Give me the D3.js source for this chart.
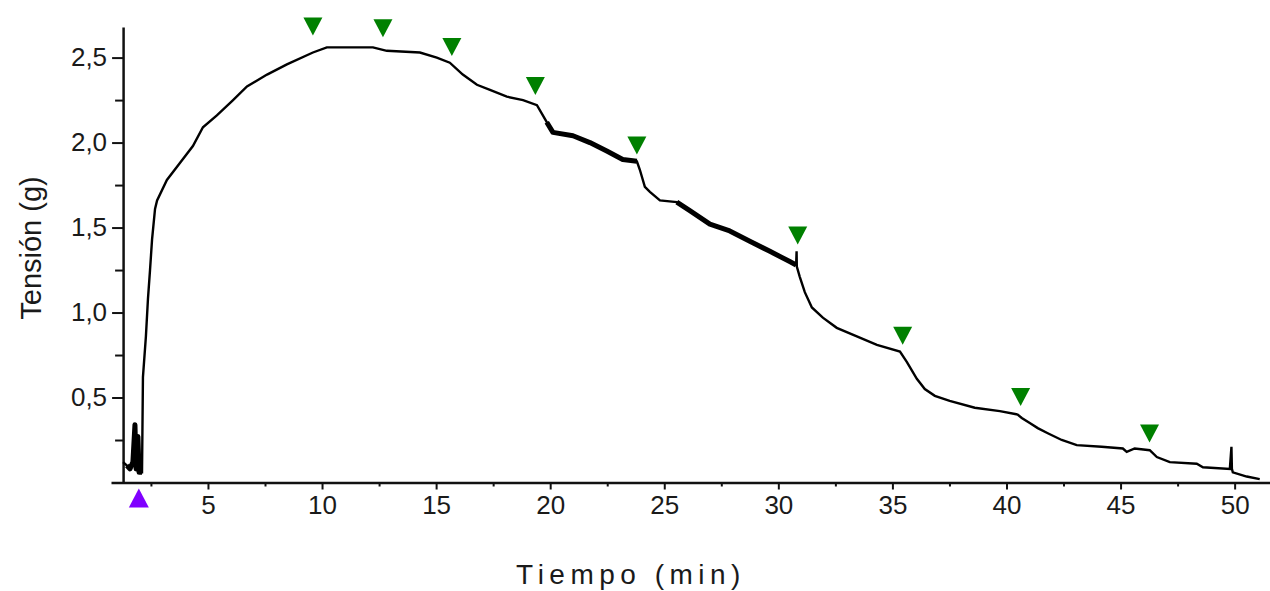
<!DOCTYPE html>
<html>
<head>
<meta charset="utf-8">
<script src="https://cdn.jsdelivr.net/npm/d3@7"></script>
<style>
  html, body { margin: 0; padding: 0; background: #fff; }
  svg { display: block; }
  .tick text { font-family: "Liberation Sans", Arial, sans-serif; font-size: 26px; fill: #1a1a1a; }
  .axis-title { font-family: "Liberation Sans", Arial, sans-serif; font-size: 28px; fill: #1a1a1a; }
</style>
</head>
<body>
<div id="chart"></div>
<script>
  // trace: time (min) and tension (g)
  const times = [
    1.28, 1.45, 1.58, 1.71, 1.80, 1.85, 1.93, 1.98, 2.11, 2.15, 2.28, 2.37, 2.46, 2.55, 2.68,
    2.77, 3.20, 3.77, 4.34, 4.78, 5.39, 6.10, 6.71, 7.59, 8.46, 9.60, 10.21, 12.23, 12.84,
    14.29, 15.03, 15.60, 16.17, 16.79, 17.36, 18.10, 18.81, 19.42, 19.85, 20.12, 21.00,
    21.74, 22.48, 23.18, 23.80, 23.93, 24.15, 24.37, 24.81, 25.55, 26.12, 27.00, 27.87,
    28.75, 29.63, 30.50, 30.78, 30.80, 30.81, 30.94, 31.16, 31.47, 31.95, 32.56, 33.44,
    34.32, 35.33, 35.63, 36.07, 36.42, 36.86, 37.51, 38.61, 39.71, 40.49, 40.67, 41.02,
    41.37, 41.81, 42.42, 43.08, 44.17, 45.10, 45.27, 45.62, 46.28, 46.59, 47.16, 48.34,
    48.61, 49.79, 49.86, 49.88, 49.92, 50.53, 51.10
  ];
  const tension = [
    0.12, 0.10, 0.08, 0.12, 0.34, 0.08, 0.27, 0.06, 0.06, 0.62, 0.86, 1.08, 1.25, 1.43, 1.61,
    1.66, 1.78, 1.88, 1.98, 2.09, 2.16, 2.25, 2.33, 2.40, 2.46, 2.53, 2.56, 2.56, 2.54,
    2.53, 2.50, 2.47, 2.40, 2.34, 2.31, 2.27, 2.25, 2.22, 2.12, 2.06, 2.04,
    2.00, 1.95, 1.90, 1.89, 1.84, 1.74, 1.71, 1.66, 1.65, 1.60, 1.52, 1.48,
    1.42, 1.36, 1.30, 1.28, 1.36, 1.27, 1.21, 1.12, 1.03, 0.97, 0.91, 0.86,
    0.81, 0.77, 0.71, 0.61, 0.55, 0.51, 0.48, 0.44, 0.42, 0.40, 0.38, 0.35,
    0.32, 0.29, 0.25, 0.22, 0.21, 0.20, 0.18, 0.20, 0.19, 0.15, 0.12, 0.11,
    0.09, 0.08, 0.21, 0.08, 0.06, 0.035, 0.02
  ];

  // stretches where the recording is noisy and the trace looks thick
  const noisyStretches = [[1.40, 2.11], [19.5, 23.8], [25.5, 30.78]];

  // green markers (drug additions) and purple start marker
  const addTimes = [9.60, 12.67, 15.69, 19.35, 23.80, 30.85, 35.45, 40.62, 46.27];
  const addLevels = [2.63, 2.62, 2.51, 2.28, 1.93, 1.40, 0.81, 0.45, 0.235];
  const startTime = 1.97;
  const startLevel = -0.035;

  const xMajorTicks = [5, 10, 15, 20, 25, 30, 35, 40, 45, 50];
  const xMinorTicks = [2.5, 7.5, 12.5, 17.5, 22.5, 27.5, 32.5, 37.5, 42.5, 47.5];
  const yMajorTicks = [0.5, 1.0, 1.5, 2.0, 2.5];
  const yMinorTicks = [0.25, 0.75, 1.25, 1.75, 2.25];

  const width = 1270, height = 591;
  const yAxisAt = 1.28;

  const svg = d3.select("#chart").append("svg")
    .attr("width", width)
    .attr("height", height);

  const x = d3.scaleLinear().domain([0.75, 51.55]).range([111, 1270]);
  const y = d3.scaleLinear().domain([0, 2.68]).range([482.5, 27]);

  const fmt = v => d3.format(".1f")(v).replace(".", ",");

  // x axis
  svg.append("g")
    .attr("transform", `translate(0,${y(0)})`)
    .call(d3.axisBottom(x).tickValues(xMinorTicks).tickSize(4).tickFormat(""))
    .call(g => g.select(".domain").remove())
    .selectAll("line").attr("stroke", "#111").attr("stroke-width", 2);

  const xAxis = svg.append("g")
    .attr("transform", `translate(0,${y(0)})`)
    .call(d3.axisBottom(x).tickValues(xMajorTicks).tickSize(7).tickSizeOuter(0).tickPadding(6));
  xAxis.select(".domain").attr("stroke", "#111").attr("stroke-width", 2.5);
  xAxis.selectAll(".tick line").attr("stroke", "#111").attr("stroke-width", 2);

  // y axis
  svg.append("g")
    .attr("transform", `translate(${x(yAxisAt)},0)`)
    .call(d3.axisLeft(y).tickValues(yMinorTicks).tickSize(8).tickFormat(""))
    .call(g => g.select(".domain").remove())
    .selectAll("line").attr("stroke", "#111").attr("stroke-width", 2);

  const yAxis = svg.append("g")
    .attr("transform", `translate(${x(yAxisAt)},0)`)
    .call(d3.axisLeft(y).tickValues(yMajorTicks).tickSize(11).tickSizeOuter(0).tickPadding(5).tickFormat(fmt));
  yAxis.select(".domain").attr("stroke", "#111").attr("stroke-width", 2.5);
  yAxis.selectAll(".tick line").attr("stroke", "#111").attr("stroke-width", 2);

  // trace
  const idx = d3.range(times.length);
  const line = d3.line()
    .x(i => x(times[i]))
    .y(i => y(tension[i]));

  // thicker band where the signal is noisy
  noisyStretches.forEach(([t0, t1]) => {
    svg.append("path")
      .datum(idx.filter(i => times[i] >= t0 && times[i] <= t1))
      .attr("d", line)
      .attr("fill", "none")
      .attr("stroke", "#000")
      .attr("stroke-width", 5)
      .attr("stroke-linejoin", "round");
  });

  svg.append("path")
    .datum(idx)
    .attr("d", line)
    .attr("fill", "none")
    .attr("stroke", "#000")
    .attr("stroke-width", 2.4)
    .attr("stroke-linejoin", "miter");

  // markers: tip sits at the given level
  svg.selectAll(".add-marker")
    .data(addTimes)
    .join("path")
    .attr("class", "add-marker")
    .attr("transform", (d, i) => `translate(${x(d)},${y(addLevels[i])})`)
    .attr("d", "M-9.5,-18L9.5,-18L0,0Z")
    .attr("fill", "#008000");

  svg.append("path")
    .attr("transform", `translate(${x(startTime)},${y(startLevel)})`)
    .attr("d", "M-10,19L10,19L0,0Z")
    .attr("fill", "#8000ff");

  // titles
  svg.append("text")
    .attr("class", "axis-title")
    .attr("x", 631)
    .attr("y", 584)
    .attr("text-anchor", "middle")
    .style("letter-spacing", "5.5px")
    .text("Tiempo (min)");

  svg.append("text")
    .attr("class", "axis-title")
    .attr("transform", "translate(41,248) rotate(-90)")
    .attr("text-anchor", "middle")
    .style("font-size", "29px")
    .text("Tensión (g)");
</script>
</body>
</html>
